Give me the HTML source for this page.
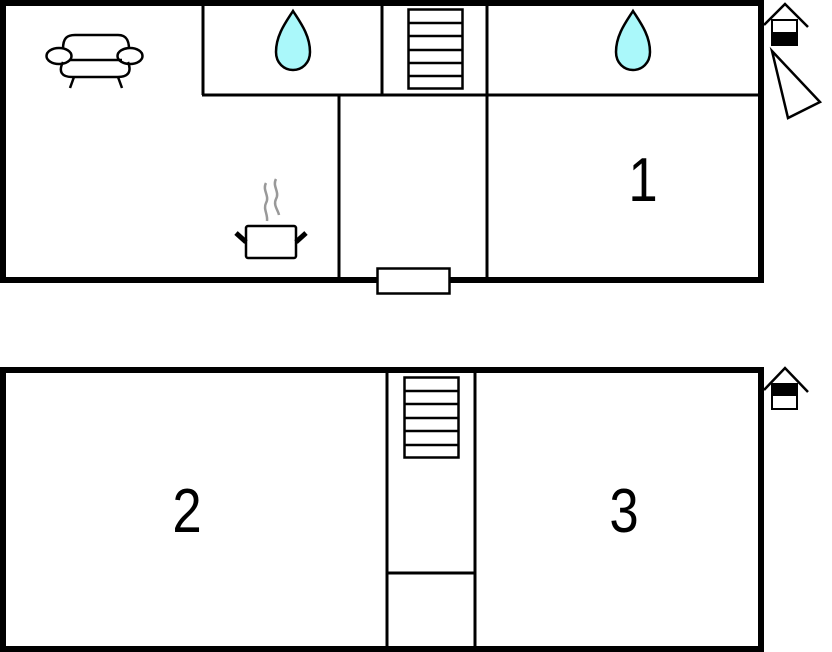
<!DOCTYPE html>
<html><head><style>
html,body{margin:0;padding:0;background:#fff;width:832px;height:652px;overflow:hidden}
svg{display:block}
text{font-family:"Liberation Sans",sans-serif}
</style></head><body>
<svg width="832" height="652" viewBox="0 0 832 652" xmlns="http://www.w3.org/2000/svg">
<g fill="none" stroke="#000">
<rect x="3" y="3" width="758" height="277" stroke-width="6"/>
<g stroke-width="3">
<line x1="203" y1="5" x2="203" y2="95"/>
<line x1="202" y1="95" x2="759" y2="95"/>
<line x1="382" y1="5" x2="382" y2="95"/>
<line x1="487" y1="5" x2="487" y2="278"/>
<line x1="339" y1="95" x2="339" y2="278"/>
</g>
<g stroke-width="2.5">
<rect x="408.5" y="9.5" width="54" height="79"/>
<line x1="408" y1="23" x2="462" y2="23"/><line x1="408" y1="36" x2="462" y2="36"/><line x1="408" y1="50" x2="462" y2="50"/><line x1="408" y1="63" x2="462" y2="63"/><line x1="408" y1="76" x2="462" y2="76"/>
</g>
<rect x="377.5" y="268.5" width="72" height="25" fill="#fff" stroke-width="2.5"/>
<path d="M293 11 C286 22 276 35 276 52 C276 63 284 70 293 70 C302 70 310 63 310 52 C310 35 300 22 293 11Z" fill="#aaf8fa" stroke-width="2.5"/>
<path d="M633 11 C626 22 616 35 616 52 C616 63 624 70 633 70 C642 70 650 63 650 52 C650 35 640 22 633 11Z" fill="#aaf8fa" stroke-width="2.5"/>
<g stroke-width="2.5">
<path d="M63 49 C63 38 67 35 75 35 L118 35 C126 35 129 40 129 49"/>
<path d="M63 62 C58 72 62 77 72 77 L118 77 C128 77 132 72 128 62"/>
<line x1="70" y1="60" x2="122" y2="60"/>
<ellipse cx="59" cy="56" rx="12.5" ry="8"/>
<ellipse cx="130" cy="56" rx="12.5" ry="8"/>
<line x1="74" y1="77" x2="70" y2="88"/><line x1="118" y1="77" x2="122" y2="88"/>
</g>
<rect x="246" y="226" width="50" height="32" rx="2" stroke-width="2.5"/>
<line x1="236" y1="233" x2="246" y2="242" stroke-width="5"/>
<line x1="306" y1="233" x2="296" y2="242" stroke-width="5"/>
<path d="M266 183 C262 190 270 196 266 203 C263 209 268 214 267 221" stroke="#999" stroke-width="2.5"/>
<path d="M276 179 C272 186 280 192 276 199 C273 205 278 210 279 215" stroke="#999" stroke-width="2.5"/>
<path d="M764 25 L785 4 L808 27" stroke-width="2.5"/>
<rect x="772" y="20" width="25" height="25" fill="#fff" stroke-width="2"/>
<rect x="772" y="32" width="25" height="13" fill="#000" stroke="none"/>
<polygon points="772,51 788,118 820,102" fill="#fff" stroke-width="2.5"/>
<rect x="3" y="370" width="758" height="279" stroke-width="6"/>
<g stroke-width="3">
<line x1="387" y1="372" x2="387" y2="648"/>
<line x1="475" y1="372" x2="475" y2="648"/>
<line x1="387" y1="573" x2="475" y2="573"/>
</g>
<g stroke-width="2.5">
<rect x="404.5" y="377.5" width="54" height="80"/>
<line x1="404" y1="391" x2="458" y2="391"/><line x1="404" y1="404" x2="458" y2="404"/><line x1="404" y1="418" x2="458" y2="418"/><line x1="404" y1="431" x2="458" y2="431"/><line x1="404" y1="445" x2="458" y2="445"/>
</g>
<path d="M764 390 L785 368 L808 392" stroke-width="2.5"/>
<rect x="772" y="384" width="25" height="25" fill="#fff" stroke-width="2"/>
<rect x="772" y="384" width="25" height="12" fill="#000" stroke="none"/>
</g>
<g font-size="62" fill="#000" text-anchor="middle">
<text transform="translate(643 201) scale(0.85 1)">1</text>
<text transform="translate(187 532) scale(0.85 1)">2</text>
<text transform="translate(624 532) scale(0.85 1)">3</text>
</g>
</svg>
</body></html>
